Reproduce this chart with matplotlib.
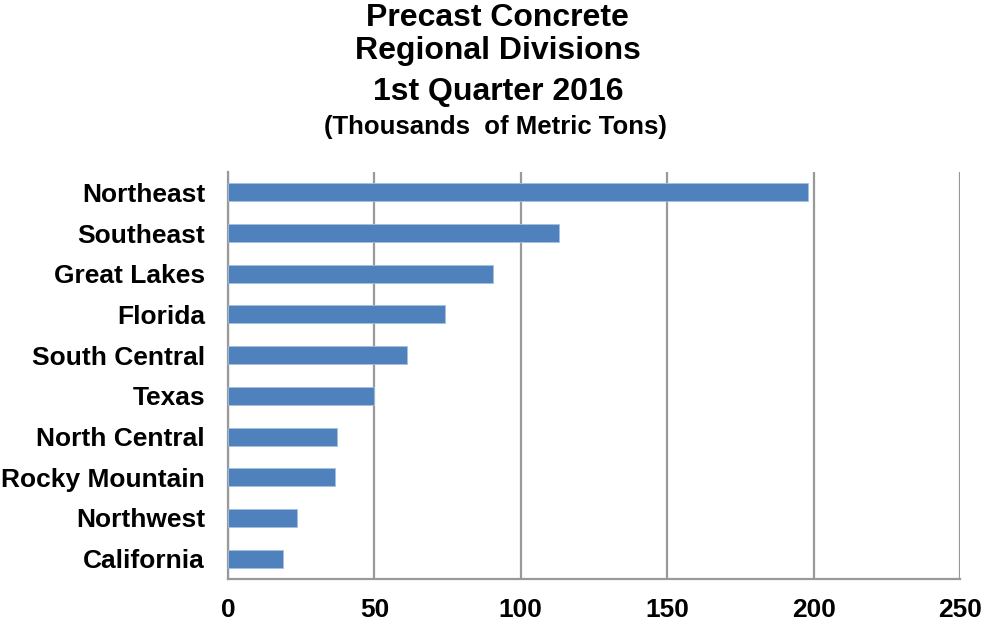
import matplotlib
matplotlib.use("Agg")
import matplotlib.pyplot as plt

regions = ["Northeast", "Southeast", "Great Lakes", "Florida", "South Central",
           "Texas", "North Central", "Rocky Mountain", "Northwest", "California"]
values = [198.2, 113.2, 90.6, 74.2, 61.2, 49.8, 37.2, 36.5, 23.5, 18.7]
x_ticks = [0, 50, 100, 150, 200, 250]

plt.rcParams['font.family'] = ['Liberation Sans', 'DejaVu Sans']

fig = plt.figure(figsize=(9.84, 6.27), dpi=100)
ax = fig.add_axes([228/984, 48/627, 732/984, 407/627])

y = list(range(len(regions)))
ax.barh(y, values, height=0.44, color='#4F81BD', edgecolor='#A7BFDE', linewidth=0.6, zorder=3)
ax.set_ylim(len(regions) - 0.5, -0.5)
ax.set_xlim(0, 250)
ax.set_xticks(x_ticks)
ax.set_yticks(y)
ax.set_yticklabels(regions, fontsize=19, fontweight='bold')
ax.set_xticklabels([str(t) for t in x_ticks], fontsize=19, fontweight='bold')
ax.tick_params(axis='y', length=0, pad=16.5)
ax.tick_params(axis='x', length=0, pad=14)

ax.grid(axis='x', color='#999999', linewidth=1.6, zorder=0)
for s in ['top', 'right']:
    ax.spines[s].set_visible(False)
for s in ['left', 'bottom']:
    ax.spines[s].set_color('#999999')
    ax.spines[s].set_linewidth(1.6)

fig.text(0.506, 0.972, "Precast Concrete", ha='center', va='center', fontsize=23, fontweight='bold')
fig.text(0.506, 0.918, "Regional Divisions", ha='center', va='center', fontsize=23, fontweight='bold')
fig.text(0.506, 0.853, "1st Quarter 2016", ha='center', va='center', fontsize=23, fontweight='bold')
fig.text(0.503, 0.797, "(Thousands  of Metric Tons)", ha='center', va='center', fontsize=18.5, fontweight='bold')

fig.savefig("out.png", dpi=100)
